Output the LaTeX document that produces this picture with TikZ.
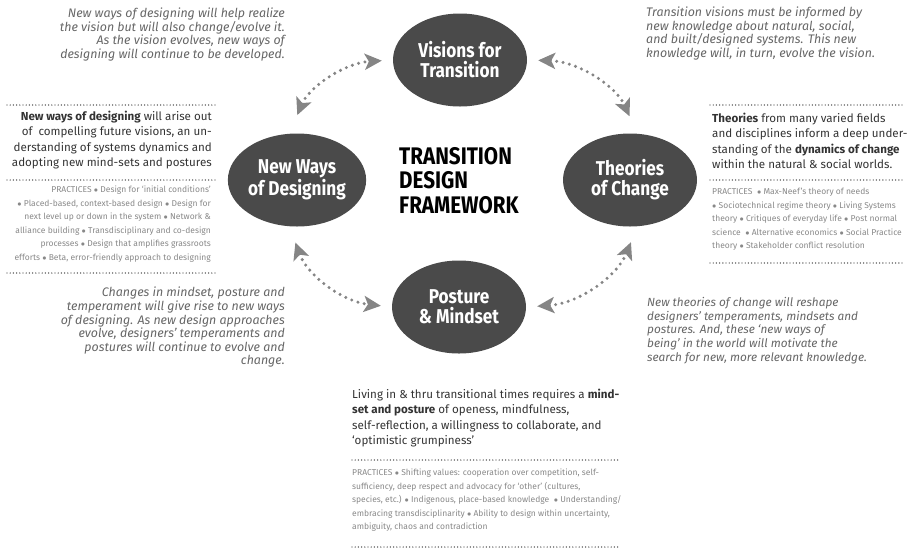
\documentclass[tikz,border=0pt]{standalone}
\usepackage{fontspec}
\setmainfont{Fira Sans}
\newfontfamily\condfont[FakeStretch=0.86]{Fira Sans}
\usepackage{tikz}
\usetikzlibrary{arrows.meta,positioning,shapes.geometric}
\definecolor{ovalgrey}{HTML}{4A4A4A}
\definecolor{arrowgrey}{HTML}{858585}
\definecolor{notegrey}{HTML}{666666}
\definecolor{practicegrey}{HTML}{888888}
\definecolor{bodytext}{HTML}{333333}
\definecolor{dotline}{HTML}{3C3C3C}

\begin{document}
\begin{tikzpicture}[x=1pt,y=-1pt,
    oval/.style={ellipse, fill=ovalgrey, minimum width=134pt, minimum height=93pt, inner sep=0pt,
        font=\condfont\bfseries\fontsize{20}{20}\selectfont, text=white, align=center},
    link/.style={arrowgrey, line width=3.4pt, line cap=round, dash pattern=on 0pt off 6.5pt,
        {Stealth[length=17pt,width=16pt,inset=4pt]}-{Stealth[length=17pt,width=16pt,inset=4pt]}},
    note/.style={inner sep=0pt, font=\itshape\fontsize{12.4}{12}\selectfont, color=notegrey},
    lead/.style={inner sep=0pt, font=\fontsize{11.6}{15.3}\selectfont, color=bodytext},
    practice/.style={inner sep=0pt, font=\fontsize{8.5}{13.5}\selectfont, color=practicegrey},
    dots/.style={dotline, line width=1.4pt, line cap=round, dash pattern=on 0pt off 3.2pt}]
    \useasboundingbox (0,0) rectangle (907,550);

    % Four ovals
    \node[oval] (visions) at (460,60) {Visions for\\Transition};
    \node[oval] (newways) at (297,180) {New Ways\\of Designing};
    \node[oval] (theories) at (630,180) {Theories\\of Change};
    \node[oval] (posture) at (459,307) {Posture\\\& Mindset};

    % Title
    \node[font=\condfont\bfseries\fontsize{24}{24.5}\selectfont, align=left, anchor=north west, inner sep=0pt]
        (title) at (399,147) {TRANSITION\\DESIGN\\FRAMEWORK};

    % Dotted arrows between the ovals
    \draw[link, shorten <=20pt, shorten >=11pt] (newways.99) to[bend left=32] (visions.west);
    \draw[link, shorten <=11pt, shorten >=19pt] (visions.east) to[bend left=32] (theories.81);
    \draw[link, shorten <=17pt, shorten >=11pt] (newways.261) to[bend right=32] (posture.west);
    \draw[link, shorten <=11pt, shorten >=17pt] (posture.east) to[bend right=32] (theories.279);

    % Italic notes
    \node[note, anchor=north east, align=right] (notetl) at (285,8)
        {New ways of designing will help realize\\the vision but will also change/evolve it.\\As the vision evolves, new ways of\\designing will continue to be developed.};
    \node[note, anchor=north west, align=left] (notetr) at (646,7)
        {Transition visions must be informed by\\new knowledge about natural, social,\\and built/designed systems. This new\\knowledge will, in turn, evolve the vision.};
    \node[note, anchor=north east, align=right, font=\itshape\fontsize{12.4}{13.6}\selectfont] (notebl) at (285,287)
        {Changes in mindset, posture and\\temperament will give rise to new ways\\of designing. As new design approaches\\evolve, designers' temperaments and\\postures will continue to evolve and\\change.};
    \node[note, anchor=north west, align=left, font=\itshape\fontsize{11.8}{13.7}\selectfont] (notebr) at (647,297)
        {New theories of change will reshape\\designers' temperaments, mindsets and\\postures. And, these `new ways of\\being' in the world will motivate the\\search for new, more relevant knowledge.};

    % Left block: new ways of designing
    \draw[dots] (7,105) -- (217,105);
    \node[lead, anchor=north east, align=right] (leadl) at (212,111)
        {\textbf{New ways of designing} will arise out\\of\ \ compelling future visions, an un-\\derstanding of systems dynamics and\\adopting new mind-sets and postures};
    \draw[dots] (7,180) -- (217,180);
    \node[practice, anchor=north east, align=right] (pracl) at (211,186)
        {PRACTICES $\bullet$ Design for `initial conditions'\\$\bullet$ Placed-based, context-based design $\bullet$ Design for\\next level up or down in the system $\bullet$ Network \&\\alliance building $\bullet$ Transdisciplinary and co-design\\processes $\bullet$ Design that amplifies grassroots\\efforts $\bullet$ Beta, error-friendly approach to designing};
    \draw[dots] (7,273) -- (217,273);

    % Right block: theories of change
    \draw[dots] (710,105) -- (905,105);
    \node[lead, anchor=north west, align=left] (leadr) at (712,113)
        {\textbf{Theories} from many varied fields\\and disciplines inform a deep under-\\standing of the \textbf{dynamics of change}\\within the natural \& social worlds.};
    \draw[dots] (710,180) -- (905,180);
    \node[practice, anchor=north west, align=left] (pracr) at (712,188)
        {PRACTICES\ \ $\bullet$ Max-Neef's theory of needs\\$\bullet$ Sociotechnical regime theory $\bullet$ Living Systems\\theory $\bullet$ Critiques of everyday life $\bullet$ Post normal\\science\ \ $\bullet$ Alternative economics $\bullet$ Social Practice\\theory $\bullet$ Stakeholder conflict resolution};
    \draw[dots] (710,263) -- (905,263);

    % Bottom block: posture and mindset
    \node[lead, anchor=north west, align=left] (leadb) at (352,389)
        {Living in \& thru transitional times requires a \textbf{mind-}\\\textbf{set and posture} of openess, mindfulness,\\self-reflection, a willingness to collaborate, and\\`optimistic grumpiness'};
    \draw[dots] (352,460) -- (620,460);
    \node[practice, anchor=north west, align=left] (pracb) at (352,469)
        {PRACTICES $\bullet$ Shifting values: cooperation over competition, self-\\sufficiency, deep respect and advocacy for `other' (cultures,\\species, etc.) $\bullet$ Indigenous, place-based knowledge\ \ $\bullet$ Understanding/\\embracing transdisciplinarity $\bullet$ Ability to design within uncertainty,\\ambiguity, chaos and contradiction};
    \draw[dots] (352,547) -- (620,547);
\end{tikzpicture}
\end{document}
